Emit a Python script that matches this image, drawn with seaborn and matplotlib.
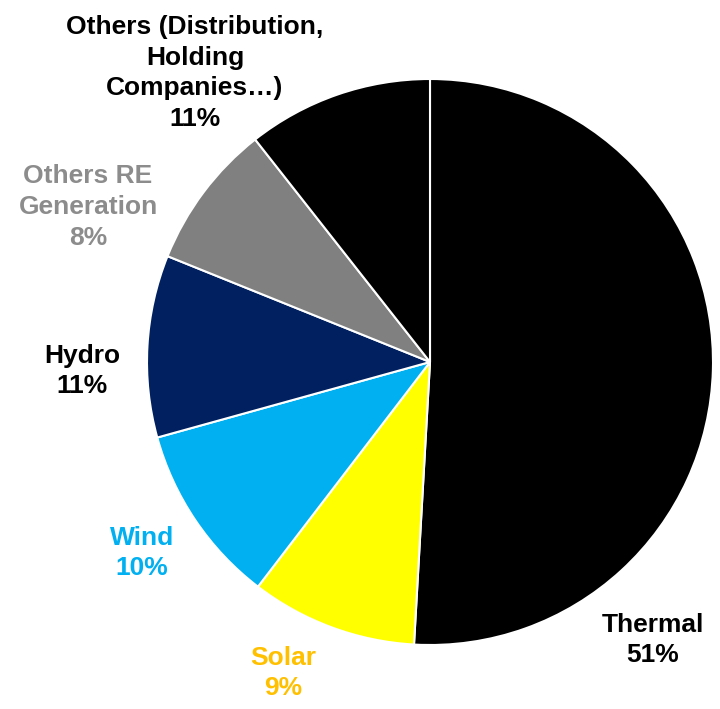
import matplotlib
matplotlib.use("Agg")
import matplotlib.pyplot as plt
import seaborn as sns

categories = ["Thermal", "Solar", "Wind", "Hydro", "Others RE\nGeneration",
              "Others (Distribution,\nHolding\nCompanies…)"]
values = [50.9, 9.5, 10.3, 10.4, 8.3, 10.6]
pct_labels = ["51%", "9%", "10%", "11%", "8%", "11%"]
slice_colors = ["#000000", "#FFFF00", "#00B0F0", "#002060", "#808080", "#000000"]
label_colors = ["#000000", "#FFC000", "#00B0F0", "#000000", "#8C8C8C", "#000000"]
# label centre positions in pixels (x, y from top)
label_pos = [(653, 640), (283, 673), (142, 553), (82, 371), (88, 207), (195, 73)]

sns.set_theme(style="white")
plt.rcParams['font.family'] = ['Liberation Sans', 'DejaVu Sans']

W, H = 720, 709
fig = plt.figure(figsize=(W / 100, H / 100), dpi=100)
ax = fig.add_axes([0, 0, 1, 1])

ax.pie(values, colors=slice_colors, startangle=90, counterclock=False,
       center=(430, H - 362), radius=283, frame=False,
       wedgeprops=dict(edgecolor="white", linewidth=1.5))

ax.set_xlim(0, W)
ax.set_ylim(0, H)
ax.set_aspect("equal")
ax.axis("off")

for cat, p, col, (x, y) in zip(categories, pct_labels, label_colors, label_pos):
    ax.text(x, H - y, f"{cat}\n{p}", ha="center", va="center", color=col,
            fontsize=19, fontweight="bold", linespacing=1.36)

fig.savefig("out.png", dpi=100)
